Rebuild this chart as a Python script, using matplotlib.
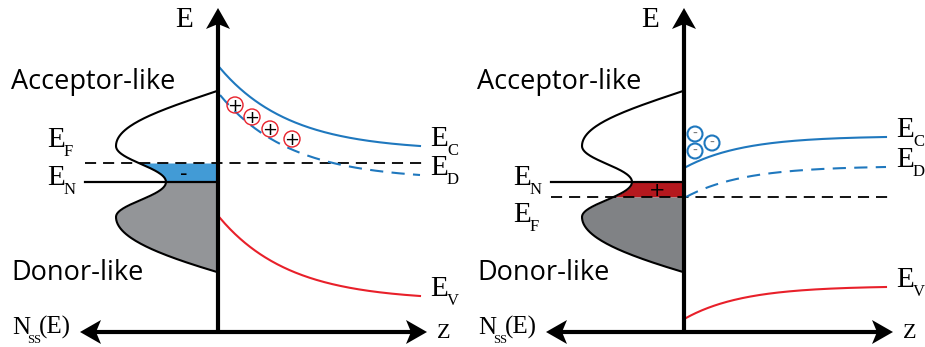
import numpy as np
import matplotlib.pyplot as plt
from matplotlib.patches import Circle, Polygon

plt.rcParams['lines.scale_dashes'] = False

# canvas in pixel units, y grows downwards (higher energy = smaller y)
W, H = 925, 347
SERIF = 'Liberation Serif'
SANS = 'Open Sans'

# E axis position of each panel and shared geometry
axis_x = [218, 684]
axis_top = 8
z_axis_y = 332
z_left = [80, 546]
z_right = [427, 893]

# surface-state levels: E_F and E_N
e_fermi = [163, 197]
e_neutral = [182, 182]

# N_ss(E) outline: cubic bezier nodes as (depth from axis, energy)
dos_nodes = [(1, 91), (58, 110), (102, 125), (102, 146),
             (102, 160), (52, 168), (52, 182),
             (52, 196), (102, 204), (102, 217),
             (102, 238), (58, 255), (1, 272)]

# band edges Ec, Ed, Ev: value at the surface and deep in the bulk
band_surface = [[68, 95, 218], [167, 197, 318]]
band_bulk = [[146, 175, 296], [137, 167, 287]]
band_length = [70, 58]
band_span = 200
band_colors = ['#1f78be', '#1f78be', '#e8202a']
band_names = ['C', 'D', 'V']

# charged states in the space-charge region
holes_x = [235, 252, 270, 292]
holes_y = [105, 117, 129, 139]
electrons_x = [695, 712, 695]
electrons_y = [134, 143, 151]

trapped_color = ['#429bd6', '#b5181e']
trapped_sign = ['-', '+']
filled_gray = ['#939598', '#808285']


def bezier(nodes, n=60):
    pts = np.array(nodes, dtype=float)
    out = []
    for k in range(0, len(pts) - 1, 3):
        p0, p1, p2, p3 = pts[k:k + 4]
        t = np.linspace(0, 1, n)[:, None]
        out.append((1 - t) ** 3 * p0 + 3 * (1 - t) ** 2 * t * p1
                   + 3 * (1 - t) * t ** 2 * p2 + t ** 3 * p3)
    return np.vstack(out)


def arrow_head(ax, tip, direction, length=21, half=12, notch=5):
    d = np.array(direction, dtype=float)
    n = np.array([-d[1], d[0]])
    tip = np.array(tip, dtype=float)
    back = tip - d * length
    pts = [tip, back + n * half, tip - d * (length - notch), back - n * half]
    ax.add_patch(Polygon(pts, closed=True, color='black', lw=0, zorder=6))


def label_e(ax, x, y, sub, size=21, subsize=12, dx=17, dy=9):
    ax.text(x, y, 'E', family=SERIF, fontsize=size, va='baseline', ha='left')
    ax.text(x + dx, y + dy, sub, family=SERIF, fontsize=subsize,
            va='baseline', ha='left')


fig = plt.figure(figsize=(W / 100, H / 100), dpi=100)
ax = fig.add_axes([0, 0, 1, 1])
ax.set_xlim(0, W)
ax.set_ylim(H, 0)
ax.axis('off')

curve = bezier(dos_nodes)
for p in range(2):
    x0 = axis_x[p]
    off = x0 - axis_x[0]
    cx = x0 - curve[:, 0]
    cy = curve[:, 1]

    # occupied states: coloured band between E_F and E_N, gray below
    upper, lower = sorted([e_fermi[p], e_neutral[p]])
    yy = np.linspace(upper, lower, 100)
    ax.fill_betweenx(yy, np.interp(yy, cy, cx), x0,
                     color=trapped_color[p], lw=0, zorder=1)
    yy = np.linspace(lower, cy.max(), 200)
    ax.fill_betweenx(yy, np.interp(yy, cy, cx), x0,
                     color=filled_gray[p], lw=0, zorder=1)
    ax.text(x0 - 34 if p == 0 else x0 - 27, (upper + lower) / 2 + 1,
            trapped_sign[p], fontsize=15 if p == 0 else 14, ha='center',
            va='center', zorder=3)
    ax.plot(cx, cy, color='black', lw=1.5, zorder=3)

    # E_N solid and E_F dashed
    ax.plot([z_left[p] + 5, x0], [e_neutral[p]] * 2, color='black', lw=1.6,
            zorder=3)
    ax.plot([z_left[p] + 5, z_right[p] + 1], [e_fermi[p]] * 2, color='black',
            lw=1.3, dashes=(8, 5), zorder=2)

    # band bending into the bulk
    z = np.linspace(0, band_span, 200)
    L = band_length[p]
    shape = (np.exp(-z / L) - np.exp(-band_span / L)) / (1 - np.exp(-band_span / L))
    for k in range(3):
        e = band_bulk[p][k] + (band_surface[p][k] - band_bulk[p][k]) * shape
        kw = dict(dashes=(9.5, 6)) if k == 1 else {}
        ax.plot(x0 + 2 + z, e, color=band_colors[k], lw=1.5, zorder=2, **kw)
        label_e(ax, x0 + 212, band_bulk[p][k], band_names[k])

    # level labels
    label_e(ax, 47 + off, e_fermi[p] + (-16 if p == 0 else 25), 'F')
    label_e(ax, 47 + off, e_neutral[p] + 3, 'N')

    ax.text(11 + off, 89, 'Acceptor-like', family=SANS, fontsize=19.5,
            va='baseline')
    ax.text(11 + off, 280, 'Donor-like', family=SANS, fontsize=19.5,
            va='baseline')

    # axes with arrows
    ax.plot([x0, x0], [z_axis_y + 2, axis_top + 16], color='black', lw=3,
            solid_capstyle='butt', zorder=5)
    ax.plot([z_left[p] + 16, z_right[p] - 16], [z_axis_y] * 2, color='black',
            lw=3, solid_capstyle='butt', zorder=5)
    arrow_head(ax, (x0, axis_top), (0, -1))
    arrow_head(ax, (z_left[p], z_axis_y), (-1, 0))
    arrow_head(ax, (z_right[p], z_axis_y), (1, 0))

    ax.text(x0 - 43, 27, 'E', family=SERIF, fontsize=21, va='baseline')
    ax.text(z_right[p] + 10, 338, 'Z', family=SERIF, fontsize=16,
            va='baseline')
    ax.text(12 + off, 334, 'N', family=SERIF, fontsize=18, va='baseline')
    ax.text(27 + off, 343, 'SS', family=SERIF, fontsize=9, va='baseline')
    ax.text(39 + off, 334, '(E)', family=SERIF, fontsize=18, va='baseline')

# ionised donors near the surface (left) and trapped electrons (right)
for x, y in zip(holes_x, holes_y):
    ax.add_patch(Circle((x, y), 8, fill=False, ec='#e8202a', lw=1.0, zorder=4))
    ax.text(x, y + 0.5, '+', fontsize=13, ha='center', va='center', zorder=4)
for x, y in zip(electrons_x, electrons_y):
    ax.add_patch(Circle((x, y), 7.5, fill=False, ec='#1f78be', lw=1.5, zorder=4))
    ax.text(x, y, '-', fontsize=10, color='#777777', ha='center', va='center',
            zorder=4)

fig.savefig('out.png', dpi=100)
